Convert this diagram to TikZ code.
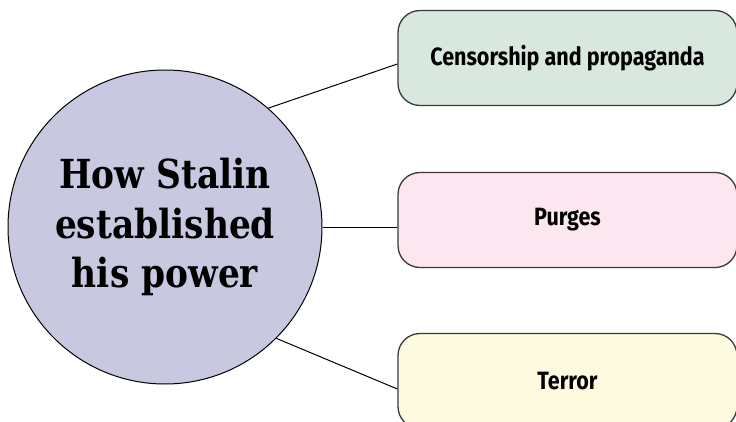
\documentclass[tikz,border=0pt]{standalone}
\usepackage{fontspec}
\newfontfamily\circfont[FakeStretch=0.86]{DejaVu Serif}
\newfontfamily\boxfont[FakeStretch=0.86]{Fira Sans}
\definecolor{hubfill}{HTML}{C8C8E0}
\definecolor{boxgreen}{HTML}{D9E8DF}
\definecolor{boxpink}{HTML}{FCE6F0}
\definecolor{boxyellow}{HTML}{FEFADF}
\definecolor{boxline}{HTML}{3A3A3A}
\begin{document}
\begin{tikzpicture}[x=1pt,y=-1pt,
  hub/.style={circle,draw=black,line width=1pt,fill=hubfill,minimum size=314pt,inner sep=0pt,align=center,
    font=\circfont\bfseries\fontsize{40}{49.5}\selectfont},
  topic/.style={rectangle,rounded corners=22pt,draw=boxline,line width=1.3pt,minimum width=339pt,minimum height=95pt,inner sep=0pt,
    font=\boxfont\bfseries\fontsize{25}{29}\selectfont},
  link/.style={draw=black,line width=1pt}]
\useasboundingbox (0,0) rectangle (736,422);
\node[hub] (c) at (165,227) {How Stalin\\established\\his power};
\node[topic,fill=boxgreen] (b1) at (567.5,58) {Censorship and propaganda};
\node[topic,fill=boxpink] (b2) at (567.5,220) {Purges};
\node[topic,fill=boxyellow] (b3) at (567.5,381) {Terror};
\draw[link] (c.49) -- ([yshift=-6pt]b1.west);
\draw[link] (c.east) -- (c.east -| b2.west);
\draw[link] (c.-45) -- ([yshift=-8pt]b3.west);
\end{tikzpicture}
\end{document}
